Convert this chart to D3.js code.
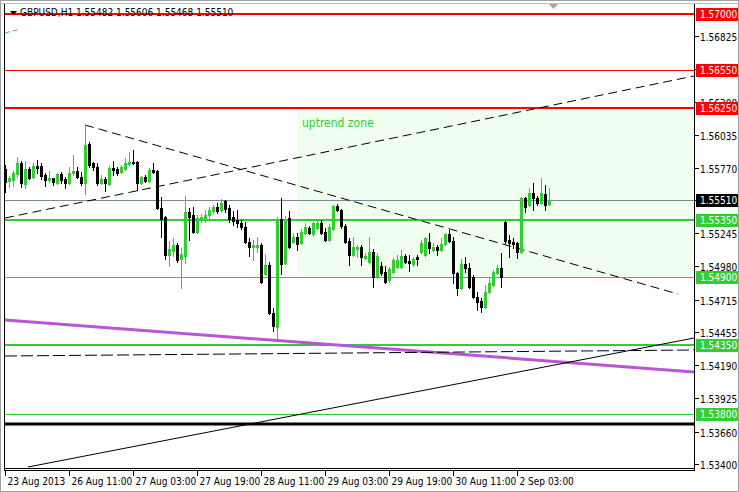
<!DOCTYPE html>
<html><head><meta charset="utf-8">
<script src="https://cdn.jsdelivr.net/npm/d3@7"></script>
<style>body{margin:0;background:#fff}svg{display:block}text{font-family:"DejaVu Sans Condensed","DejaVu Sans",sans-serif}</style>
</head><body><svg id="c" width="739" height="492"></svg>
<script>
// ---- data ----
const symbolTitle = "GBPUSD,H1  1.55482 1.55606 1.55468 1.55510";
const openP = [1.55760,1.55664,1.55672,1.55720,1.55808,1.55640,1.55760,1.55696,1.55784,1.55784,
1.55712,1.55672,1.55688,1.55648,1.55720,1.55680,1.55648,1.55728,1.55744,1.55696,
1.55648,1.55960,1.55808,1.55776,1.55648,1.55680,1.55640,1.55768,1.55760,1.55736,
1.55760,1.55800,1.55816,1.55816,1.55648,1.55696,1.55664,1.55752,1.55744,1.55448,
1.55376,1.55072,1.55104,1.55152,1.55040,1.55064,1.55416,1.55392,1.55256,1.55352,
1.55352,1.55392,1.55424,1.55456,1.55432,1.55504,1.55448,1.55376,1.55352,1.55328,
1.55296,1.55176,1.55136,1.55136,1.55152,1.54920,1.54992,1.54608,1.54496,1.55360,
1.55008,1.55368,1.55176,1.55216,1.55168,1.55248,1.55288,1.55240,1.55288,1.55328,
1.55256,1.55192,1.55280,1.55464,1.55432,1.55304,1.55184,1.55072,1.55120,1.55136,
1.55048,1.55016,1.55096,1.54896,1.54984,1.54936,1.54872,1.54936,1.54976,1.54976,
1.55064,1.55024,1.55000,1.55056,1.55096,1.55072,1.55176,1.55112,1.55136,1.55112,
1.55160,1.55240,1.55184,1.54928,1.54808,1.55000,1.54968,1.54896,1.54736,1.54704,
1.54656,1.54776,1.54832,1.54928,1.54968,1.55336,1.55192,1.55176,1.55168,1.55096,
1.55528,1.55472,1.55568,1.55528,1.55488,1.55560,1.55482];
const highP = [1.55792,1.55704,1.55744,1.55856,1.55824,1.55824,1.55776,1.55808,1.55832,1.55808,
1.55728,1.55744,1.55688,1.55728,1.55736,1.55696,1.55776,1.55872,1.55776,1.55736,
1.56112,1.55976,1.55816,1.55808,1.55712,1.55696,1.55784,1.55824,1.55776,1.55792,
1.55848,1.55896,1.55912,1.55824,1.55704,1.55712,1.55768,1.55808,1.55752,1.55536,
1.55384,1.55184,1.55208,1.55168,1.55128,1.55544,1.55448,1.55456,1.55392,1.55400,
1.55432,1.55456,1.55472,1.55488,1.55520,1.55512,1.55472,1.55424,1.55432,1.55360,
1.55336,1.55208,1.55192,1.55216,1.55168,1.55080,1.55016,1.54648,1.55376,1.55528,
1.55384,1.55424,1.55248,1.55248,1.55280,1.55328,1.55304,1.55336,1.55352,1.55352,
1.55288,1.55320,1.55472,1.55480,1.55440,1.55320,1.55208,1.55216,1.55152,1.55152,
1.55088,1.55216,1.55120,1.55088,1.55016,1.54984,1.54976,1.55048,1.55072,1.55112,
1.55080,1.55072,1.55056,1.55072,1.55192,1.55216,1.55248,1.55168,1.55152,1.55208,
1.55248,1.55272,1.55216,1.54936,1.55040,1.55056,1.55008,1.54912,1.54776,1.54728,
1.54832,1.54888,1.54952,1.54992,1.55088,1.55344,1.55232,1.55208,1.55176,1.55536,
1.55536,1.55608,1.55648,1.55544,1.55688,1.55632,1.55606];
const lowP = [1.55576,1.55616,1.55624,1.55696,1.55616,1.55608,1.55680,1.55688,1.55728,1.55680,
1.55624,1.55656,1.55632,1.55640,1.55648,1.55608,1.55640,1.55712,1.55688,1.55632,
1.55560,1.55776,1.55752,1.55632,1.55640,1.55584,1.55632,1.55712,1.55712,1.55728,
1.55752,1.55792,1.55800,1.55592,1.55640,1.55656,1.55656,1.55728,1.55440,1.55216,
1.55040,1.54984,1.55064,1.55016,1.54808,1.55008,1.55192,1.55248,1.55248,1.55336,
1.55336,1.55352,1.55408,1.55408,1.55416,1.55416,1.55336,1.55312,1.55296,1.55280,
1.55168,1.55064,1.55032,1.55096,1.54848,1.54912,1.54600,1.54464,1.54408,1.54920,
1.55000,1.55128,1.55168,1.55112,1.55160,1.55240,1.55240,1.55224,1.55280,1.55240,
1.55184,1.55184,1.55272,1.55424,1.55288,1.55168,1.54992,1.55064,1.55056,1.54992,
1.55040,1.55008,1.54816,1.54888,1.54912,1.54848,1.54856,1.54928,1.54968,1.54968,
1.55008,1.54944,1.54984,1.54992,1.55088,1.55064,1.55088,1.55104,1.55072,1.55104,
1.55152,1.55176,1.54848,1.54752,1.54800,1.54936,1.54808,1.54728,1.54632,1.54616,
1.54648,1.54768,1.54824,1.54920,1.54816,1.55168,1.55056,1.55128,1.55048,1.55088,
1.55416,1.55464,1.55432,1.55472,1.55480,1.55432,1.55468];
const closeP = [1.55656,1.55688,1.55728,1.55808,1.55648,1.55760,1.55688,1.55784,1.55768,1.55704,
1.55672,1.55688,1.55656,1.55720,1.55672,1.55648,1.55728,1.55744,1.55696,1.55648,
1.55952,1.55792,1.55776,1.55648,1.55680,1.55648,1.55768,1.55752,1.55728,1.55776,
1.55808,1.55816,1.55808,1.55648,1.55696,1.55664,1.55752,1.55736,1.55448,1.55360,
1.55072,1.55120,1.55152,1.55032,1.55080,1.55416,1.55376,1.55256,1.55368,1.55376,
1.55392,1.55432,1.55456,1.55424,1.55488,1.55440,1.55360,1.55344,1.55328,1.55296,
1.55176,1.55136,1.55152,1.55152,1.54856,1.54992,1.54608,1.54504,1.55360,1.55000,
1.55352,1.55136,1.55216,1.55160,1.55256,1.55296,1.55248,1.55328,1.55328,1.55248,
1.55192,1.55296,1.55464,1.55432,1.55304,1.55176,1.55072,1.55136,1.55136,1.55056,
1.55064,1.55096,1.54896,1.55064,1.54928,1.54856,1.54960,1.55032,1.55032,1.55064,
1.55016,1.55008,1.55040,1.55040,1.55168,1.55208,1.55128,1.55136,1.55112,1.55160,
1.55240,1.55184,1.54928,1.54808,1.55000,1.54968,1.54816,1.54736,1.54696,1.54656,
1.54776,1.54848,1.54936,1.54968,1.54896,1.55184,1.55168,1.55160,1.55096,1.55528,
1.55456,1.55568,1.55528,1.55488,1.55568,1.55472,1.55510];
const timeLabels = ["23 Aug 2013","26 Aug 11:00","27 Aug 03:00","27 Aug 19:00","28 Aug 11:00","29 Aug 03:00","29 Aug 19:00","30 Aug 11:00","2 Sep 03:00"];
const timeLabelBars = [0,16,32,48,64,80,96,112,128];
const priceTicks = [1.56825,1.56560,1.56300,1.56035,1.55770,1.55510,1.55245,1.54980,1.54715,1.54455,1.54190,1.53925,1.53660,1.53400];
const levelPrices = [1.57000,1.56550,1.56250,1.55510,1.55350,1.54900,1.54350,1.53800];
const levelKinds  = ["redThick","redThin","redThick","bid","greenThick","greenThin","greenThick","greenThin"];
const blackLevel = 1.53720;
// trend lines: [bar, price] endpoints
const trendLines = [
  {kind:"greenDash", a:[0,1.56848], b:[3.75,1.56880]},
  {kind:"blackDash", a:[0,1.55368], b:[172.25,1.56504]},
  {kind:"blackDash", a:[20,1.56112], b:[168.25,1.54760]},
  {kind:"purple",    a:[0,1.54552], b:[172.25,1.54136]},
  {kind:"blackDashLong", a:[0,1.54264], b:[172.25,1.54312]},
  {kind:"blackSolid", a:[5.75,1.53376], b:[172.25,1.54408]}
];
const zone = {bar0:73, p1:1.56250, p2:1.54900, label:"uptrend zone"};

// ---- layout / style ----
const svg = d3.select("#c");
const L=4, R=694, T=4, B=468;
const x = d3.scaleLinear().domain([0,172.25]).range([5,694]);
const y = d3.scaleLinear().domain([1.534,1.570]).range([464,14]);
const GREEN="#32CD32";
const style = {
  redThick:{c:"#FF0000",w:2}, redThin:{c:"#FF0000",w:1}, bid:{c:"#778899",w:1},
  greenThick:{c:GREEN,w:2}, greenThin:{c:GREEN,w:1}
};
const labelBg = {redThick:"#FF0000",redThin:"#FF0000",bid:"#000000",greenThick:GREEN,greenThin:GREEN};

svg.append("rect").attr("x",0.5).attr("y",0.5).attr("width",738).attr("height",491).attr("fill","#fff").attr("stroke","#a0a0a0");
svg.append("defs").append("clipPath").attr("id","pc").append("rect").attr("x",L+1).attr("y",T).attr("width",R-L-1).attr("height",B-T);
const plot = svg.append("g").attr("clip-path","url(#pc)");

// zone
plot.append("rect").attr("x",x(zone.bar0)).attr("y",y(zone.p1)).attr("width",R-x(zone.bar0)).attr("height",y(zone.p2)-y(zone.p1)).attr("fill","#F0FFF0");
plot.append("text").attr("x",x(zone.bar0)+5).attr("y",y(zone.p1)+19).attr("fill",GREEN).attr("font-size",12).text(zone.label);

// title
svg.append("path").attr("d","M10,11 L17,11 L13.5,15 Z").attr("fill","#000");
svg.append("text").attr("x",20).attr("y",16).attr("font-size",10).attr("fill","#000").text(symbolTitle);
// chart shift marker
svg.append("path").attr("d","M549,4 L558,4 L553.5,9 Z").attr("fill","#a0a0a0");

// horizontal levels
levelPrices.forEach((p,i)=>{
  const s=style[levelKinds[i]];
  plot.append("line").attr("x1",L).attr("x2",R).attr("y1",Math.round(y(p))+(s.w%2?0.5:0)).attr("y2",Math.round(y(p))+(s.w%2?0.5:0))
    .attr("stroke",s.c).attr("stroke-width",s.w);
});
plot.append("line").attr("x1",L).attr("x2",R).attr("y1",y(blackLevel)).attr("y2",y(blackLevel)).attr("stroke","#000").attr("stroke-width",3);

// trend lines
const tstyle = {
  greenDash:{c:GREEN,w:1,d:"5,3"}, blackDash:{c:"#000",w:1,d:"9,5"}, blackDashLong:{c:"#000",w:1,d:"12,4"},
  purple:{c:"#BA55D3",w:3,d:null}, blackSolid:{c:"#000",w:1,d:null}
};
trendLines.forEach(t=>{
  const s=tstyle[t.kind];
  const ln=plot.append("line").attr("x1",x(t.a[0])).attr("y1",y(t.a[1])).attr("x2",x(t.b[0])).attr("y2",y(t.b[1]))
    .attr("stroke",s.c).attr("stroke-width",s.w);
  if(s.d) ln.attr("stroke-dasharray",s.d);
});

// candles
const bars = d3.range(openP.length);
const cg = plot.append("g");
bars.forEach(i=>{
  const up = closeP[i] > openP[i];
  const col = up ? GREEN : "#000";
  const cx = Math.round(x(i));
  cg.append("line").attr("x1",cx+0.5).attr("x2",cx+0.5).attr("y1",Math.round(y(highP[i]))).attr("y2",Math.round(y(lowP[i]))+1)
    .attr("stroke",col).attr("stroke-width",1);
  const yt = Math.round(y(Math.max(openP[i],closeP[i])));
  const yb = Math.round(y(Math.min(openP[i],closeP[i])));
  cg.append("rect").attr("x",cx-1).attr("y",yt).attr("width",3).attr("height",Math.max(1,yb-yt+1)).attr("fill",col);
});

// frame
svg.append("line").attr("x1",0).attr("x2",739).attr("y1",3.5).attr("y2",3.5).attr("stroke","#c0c0c0");
svg.append("line").attr("x1",L+0.5).attr("x2",L+0.5).attr("y1",T).attr("y2",B+3).attr("stroke","#000");
svg.append("line").attr("x1",R+0.5).attr("x2",R+0.5).attr("y1",T).attr("y2",B+3).attr("stroke","#000");
svg.append("line").attr("x1",L).attr("x2",R+1).attr("y1",B+0.5).attr("y2",B+0.5).attr("stroke","#000");
svg.append("line").attr("x1",L).attr("x2",R+1).attr("y1",B+2.5).attr("y2",B+2.5).attr("stroke","#000");

// price axis
const ya = svg.append("g");
priceTicks.forEach(p=>{
  const yy=Math.round(y(p))+0.5;
  ya.append("line").attr("x1",R+1).attr("x2",R+5).attr("y1",yy).attr("y2",yy).attr("stroke","#000");
  ya.append("text").attr("x",700).attr("y",yy+4).attr("font-size",10).attr("fill","#000").text(p.toFixed(5));
});
levelPrices.forEach((p,i)=>{
  const yy=Math.round(y(p));
  ya.append("rect").attr("x",696).attr("y",yy-6).attr("width",42).attr("height",13).attr("fill",labelBg[levelKinds[i]]);
  ya.append("text").attr("x",700).attr("y",yy+4).attr("font-size",10).attr("fill","#fff").text(p.toFixed(5));
});

// time axis
const xa = svg.append("g");
timeLabelBars.forEach((b,i)=>{
  const xx=Math.round(x(b))+0.5;
  xa.append("line").attr("x1",xx).attr("x2",xx).attr("y1",B+3).attr("y2",B+8).attr("stroke","#000");
  xa.append("text").attr("x",xx+2).attr("y",B+17).attr("font-size",10).attr("fill","#000").text(timeLabels[i]);
});
</script></body></html>
